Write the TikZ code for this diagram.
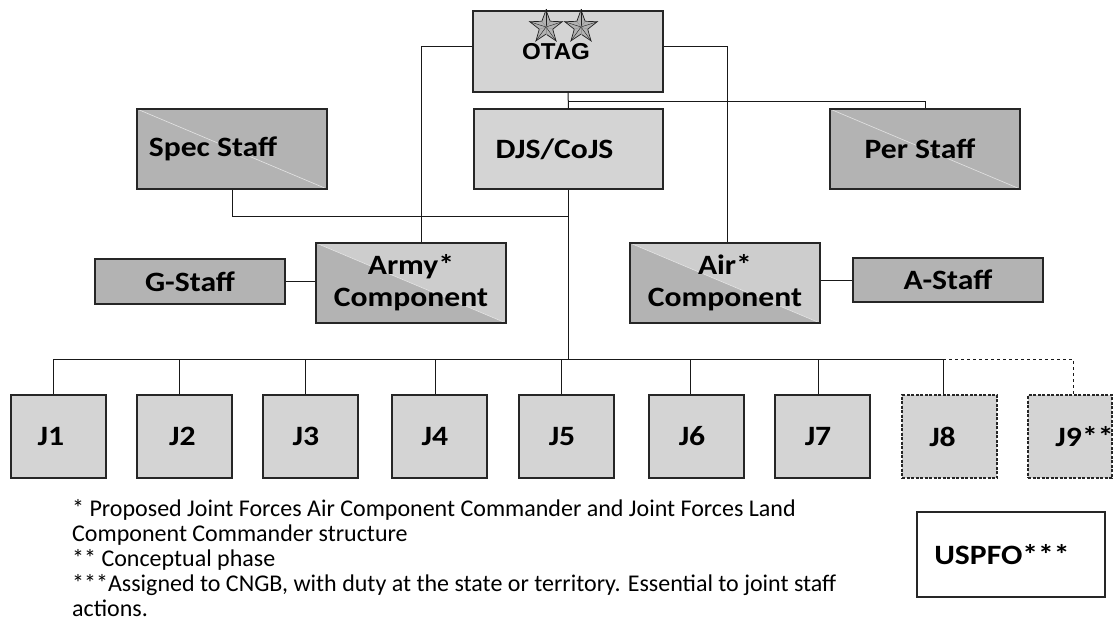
\documentclass[tikz,border=0pt]{standalone}
\usepackage{fontspec}
\setmainfont{Carlito}
\newfontfamily\lblfont[FakeStretch=1.13]{Carlito}
\newfontfamily\arialfont[FakeStretch=1.05]{Liberation Sans}
\usetikzlibrary{shapes.geometric}
\definecolor{lgray}{RGB}{212,212,212}
\definecolor{dgray}{RGB}{179,179,179}
\definecolor{mgray}{RGB}{205,205,205}
\begin{document}
\begin{tikzpicture}[x=1pt,y=-1pt,
  base/.style={draw=black!85, line width=1.2pt, inner sep=0pt, anchor=center,
    font=\lblfont\bfseries\fontsize{28}{32}\selectfont},
  lbox/.style={base, fill=lgray},
  dbox/.style={base, fill=dgray},
  diagbox/.style={base, fill=dgray, path picture={
      \draw[white!80!gray, line width=0.6pt] (path picture bounding box.north west) -- (path picture bounding box.south east);}},
  splitbox/.style={base, fill=mgray, align=center, path picture={
      \fill[dgray] (path picture bounding box.north west) -- (path picture bounding box.south west) -- (path picture bounding box.south east) -- cycle;
      \draw[white!80!gray, line width=0.6pt] (path picture bounding box.north west) -- (path picture bounding box.south east);}},
  jbox/.style={lbox, minimum width=95, minimum height=83},
  conn/.style={line width=1pt, black!90},
  starnode/.style={star, star points=5, star point ratio=2.4, minimum size=34, inner sep=0pt,
    fill=gray!60, draw=gray!25!black, line width=0.7pt}
]
\useasboundingbox (0,0) rectangle (1114,622);

% helper coordinates
\coordinate (otagy) at (0,46);
\coordinate (pery) at (0,101);
\coordinate (specbus) at (0,216);
\coordinate (bus) at (0,359);

% top
\node[lbox, minimum width=190, minimum height=81] (OTAG) at (568,51.5)
  {\raisebox{-12pt}{\arialfont\bfseries\fontsize{23}{25}\selectfont OTAG}\hspace*{24pt}};
\foreach \s/\x in {st1/546, st2/581}{
  \node[starnode] (\s) at (\x,27) {};
  \foreach \k in {1,...,5}{
    \draw[gray!25!black, line width=0.4pt] (\s.center) -- (\s.outer point \k);
    \draw[gray!85, line width=0.4pt] (\s.center) -- (\s.inner point \k);
  }
}

\node[lbox, minimum width=189, minimum height=80] (DJS) at (568.5,149) {DJS/CoJS\hspace*{28pt}};
\node[diagbox, minimum width=190, minimum height=80] (Spec) at (232,149) {Spec Staff\hspace*{38pt}};
\node[diagbox, minimum width=190, minimum height=80] (Per) at (925,149) {Per Staff\hspace*{10pt}};

% components
\node[splitbox, minimum width=190, minimum height=80] (Army) at (411,283) {Army*\\Component};
\node[splitbox, minimum width=190, minimum height=80] (Air) at (725,283) {Air*\\Component};
\node[dbox, minimum width=190, minimum height=45] (G) at (190,281.5) {G-Staff};
\node[dbox, minimum width=190, minimum height=44] (A) at (948,280) {A-Staff};

% J boxes
\node[jbox] (J1) at (58.5,436.5) {J1\hspace*{15pt}};
\node[jbox] (J2) at (184.5,436.5) {J2\hspace*{4pt}};
\node[jbox] (J3) at (310.5,436.5) {J3\hspace*{9pt}};
\node[jbox] (J4) at (439.5,436.5) {J4\hspace*{9pt}};
\node[jbox] (J5) at (566.5,436.5) {J5\hspace*{9pt}};
\node[jbox] (J6) at (696.5,436.5) {J6\hspace*{9pt}};
\node[jbox] (J7) at (822.5,436.5) {J7\hspace*{9pt}};
\node[jbox, dash pattern=on 3pt off 1.5pt] (J8) at (949.5,436.5) {J8\hspace*{14pt}};
\node[lbox, dash pattern=on 3pt off 1.5pt, minimum width=84, minimum height=83] (J9) at (1070,436.5)
  {\makebox[0pt][c]{\hspace{29pt}J9**}};

% USPFO
\node[base, fill=white, minimum width=188, minimum height=85] (USP) at (1011,554.5) {USPFO***\hspace*{18pt}};

% footnotes
\node[anchor=north west, inner sep=0pt, align=left, font=\fontsize{24}{25}\selectfont] (notes) at (72,499)
  {* Proposed Joint Forces Air Component Commander and Joint Forces Land\\
   Component Commander structure\\
   ** Conceptual phase\\
   ***Assigned to CNGB, with duty at the state or territory. Essential to joint staff\\
   actions.};

% connectors
\draw[conn] (OTAG.west |- otagy) -| ([xshift=10pt]Army.north);
\draw[conn] (OTAG.east |- otagy) -| ([xshift=2pt]Air.north);
\draw[conn] (OTAG.south) -- (DJS.north);
\draw[conn] (OTAG.south |- pery) -| (Per.north);
\draw[conn] (Spec.south) |- (DJS.south |- specbus);
\draw[conn] (DJS.south) -- (DJS.south |- bus);
\draw[conn] (G.east) -- (G.east -| Army.west);
\draw[conn] (A.west) -- (A.west -| Air.east);

\draw[conn] ([xshift=-5.5pt]J1.north) -- ([xshift=-5.5pt]J1.north |- bus) -| ([xshift=-6.5pt]J8.north);
\draw[conn] ([xshift=-5.5pt]J2.north) -- ([xshift=-5.5pt]J2.north |- bus);
\draw[conn] ([xshift=-5.5pt]J3.north) -- ([xshift=-5.5pt]J3.north |- bus);
\draw[conn] ([xshift=-4.5pt]J4.north) -- ([xshift=-4.5pt]J4.north |- bus);
\draw[conn] ([xshift=-5.5pt]J5.north) -- ([xshift=-5.5pt]J5.north |- bus);
\draw[conn] ([xshift=-6.5pt]J6.north) -- ([xshift=-6.5pt]J6.north |- bus);
\draw[conn] ([xshift=-4.5pt]J7.north) -- ([xshift=-4.5pt]J7.north |- bus);
\draw[conn, dashed] ([xshift=-6.5pt]J8.north |- bus) -| ([xshift=3pt]J9.north);
\end{tikzpicture}
\end{document}
